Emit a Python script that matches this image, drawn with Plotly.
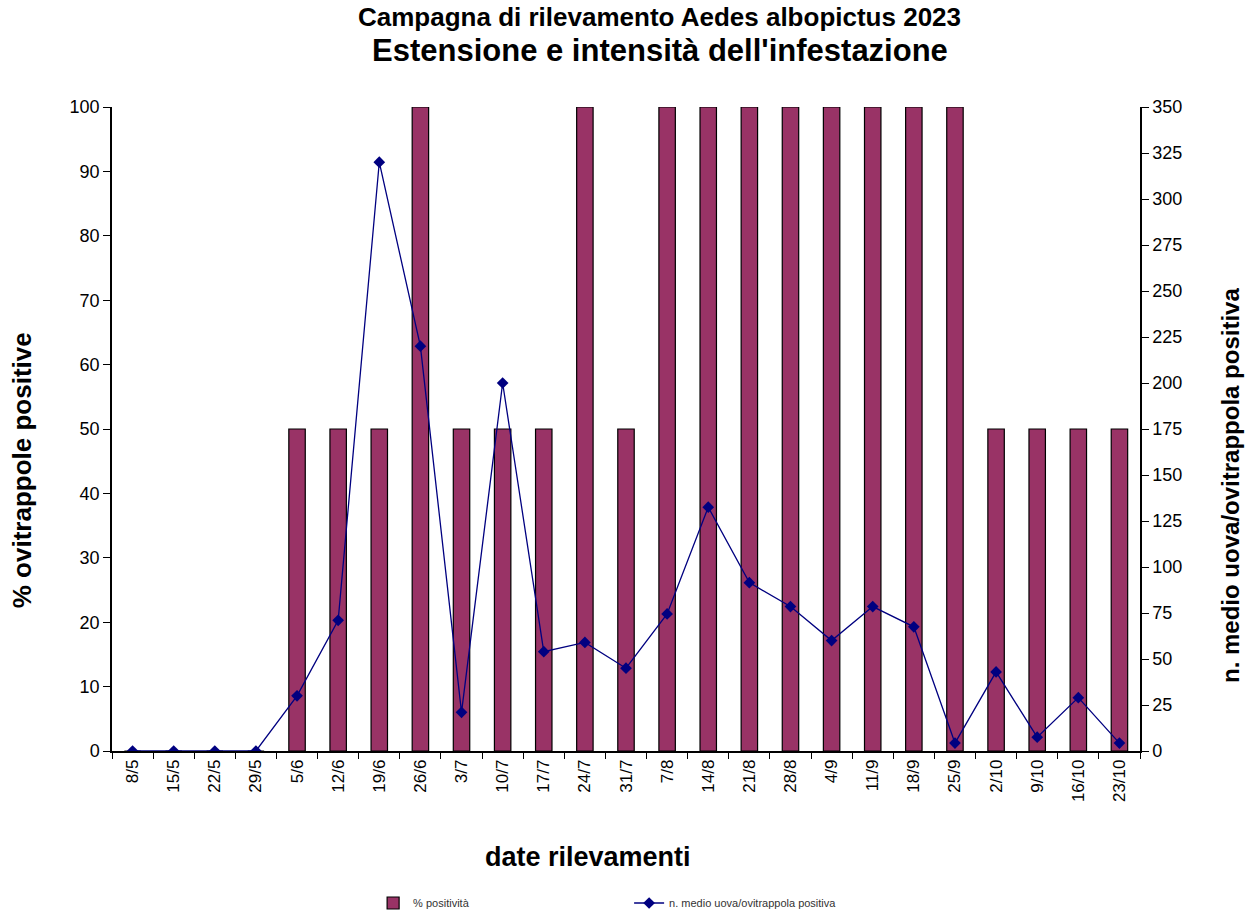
import plotly.graph_objects as go

dates = ["8/5", "15/5", "22/5", "29/5", "5/6", "12/6", "19/6", "26/6", "3/7", "10/7",
         "17/7", "24/7", "31/7", "7/8", "14/8", "21/8", "28/8", "4/9", "11/9", "18/9",
         "25/9", "2/10", "9/10", "16/10", "23/10"]
positivita = [0, 0, 0, 0, 50, 50, 50, 100, 50, 50,
              50, 100, 50, 100, 100, 100, 100, 100, 100, 100,
              100, 50, 50, 50, 50]
uova_medio = [0, 0, 0, 0, 30, 71, 320, 220, 21, 200,
              54, 59, 45, 74.5, 132.5, 91.5, 78.5, 60, 78.5, 67.5,
              4.3, 43, 7.5, 29, 4.3]

FONT = "Liberation Sans, Arial, sans-serif"

fig = go.Figure()
fig.add_trace(go.Bar(
    x=dates, y=positivita, name="% positività",
    marker=dict(color="#993366", line=dict(color="black", width=1.2)),
    width=0.4, yaxis="y",
))
fig.add_trace(go.Scatter(
    x=dates, y=uova_medio, name="n. medio uova/ovitrappola positiva",
    mode="lines+markers",
    line=dict(color="#000080", width=1.3),
    marker=dict(symbol="diamond", size=9, color="#000080"),
    yaxis="y2",
))

fig.update_layout(
    width=1248, height=912,
    margin=dict(l=112, r=108, t=107, b=161, autoexpand=False),
    plot_bgcolor="white", paper_bgcolor="white",
    font=dict(family=FONT, color="black"),
    showlegend=True,
    legend=dict(orientation="h", x=0.254, xanchor="left", y=-0.236, yanchor="middle",
                font=dict(size=11, color="#333333"), entrywidth=211, entrywidthmode="pixels",
                bgcolor="rgba(0,0,0,0)"),
    xaxis=dict(
        type="category", tickangle=-90, tickfont=dict(size=17),
        showline=True, linecolor="black", linewidth=1.5,
        ticks="outside", ticklen=6, tickcolor="black", tickson="boundaries",
        showgrid=False, range=[-0.5, 24.5], automargin=False,
    ),
    yaxis=dict(
        range=[0, 100], dtick=10, tickfont=dict(size=18),
        showline=True, linecolor="black", linewidth=1.5,
        ticks="outside", ticklen=7, tickcolor="black",
        showgrid=False, zeroline=False, automargin=False,
    ),
    yaxis2=dict(
        range=[0, 350], dtick=25, tickfont=dict(size=18),
        overlaying="y", side="right",
        showline=True, linecolor="black", linewidth=1.5,
        ticks="outside", ticklen=7, tickcolor="black",
        showgrid=False, zeroline=False, automargin=False,
    ),
    annotations=[
        dict(text="<b>Campagna di rilevamento Aedes albopictus 2023</b>", xref="paper", yref="paper",
             x=0.533, y=1.139, xanchor="center", yanchor="middle", showarrow=False,
             font=dict(size=26)),
        dict(text="<b>Estensione e intensità dell'infestazione</b>", xref="paper", yref="paper",
             x=0.533, y=1.088, xanchor="center", yanchor="middle", showarrow=False,
             font=dict(size=31)),
        dict(text="<b>% ovitrappole positive</b>", xref="paper", yref="paper",
             x=-0.0875, y=0.436, xanchor="center", yanchor="middle", showarrow=False,
             textangle=-90, font=dict(size=26)),
        dict(text="<b>n. medio uova/ovitrappola positiva</b>", xref="paper", yref="paper",
             x=1.0875, y=0.413, xanchor="center", yanchor="middle", showarrow=False,
             textangle=-90, font=dict(size=24)),
        dict(text="<b>date rilevamenti</b>", xref="paper", yref="paper",
             x=0.463, y=-0.165, xanchor="center", yanchor="middle", showarrow=False,
             font=dict(size=27)),
    ],
)

fig.write_html("out.html", config={"displayModeBar": False},
               post_script="document.body.style.margin='0';document.body.style.overflow='hidden';")
